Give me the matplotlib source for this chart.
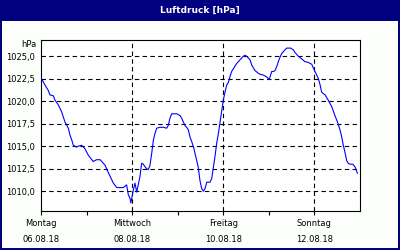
import matplotlib
matplotlib.use("Agg")
import matplotlib.pyplot as plt
from matplotlib.patches import Rectangle

# hours since Monday 06.08.18 00:00 and pressure in hPa
hours = [0, 2.1, 3.8, 4.7, 6.5, 7.4, 9.1, 10.9, 12.6, 14.4, 15.3, 16.2, 17.0,
         18.8, 19.6, 21.4, 23.2, 24.9, 27.5, 29.3, 31.1, 33.7, 35.4, 38.1,
         39.9, 43.3, 45.1, 46.0, 46.9, 47.3, 48.6, 49.5, 50.4, 51.2, 52.1,
         53.0, 53.9, 54.8, 55.7, 56.5, 57.4, 58.3, 59.2, 60.0, 60.9, 62.7,
         64.4, 66.2, 67.0, 67.9, 68.8, 71.5, 73.2, 74.1, 75.8, 76.7, 77.6,
         78.5, 79.4, 80.6, 81.1, 82.8, 83.7, 84.6, 85.5, 86.4, 87.3, 89.0,
         89.9, 90.8, 91.6, 92.5, 93.4, 94.3, 95.2, 96.0, 96.9, 97.8, 98.7,
         99.5, 100.4, 101.3, 103.1, 104.8, 106.6, 107.4, 108.3, 110.1, 111.0,
         112.7, 114.5, 115.3, 117.1, 118.9, 120.2, 121.5, 122.4, 123.2, 124.1,
         125.0, 125.9, 126.8, 128.0, 129.4, 131.5, 132.9, 133.8, 135.5, 137.3,
         139.0, 140.8, 142.6, 143.4, 144.3, 146.1, 147.0, 147.8, 149.6, 151.3,
         153.1, 154.8, 156.1, 157.5, 158.4, 159.2, 159.9, 160.6, 161.0, 161.8,
         162.7, 164.2, 165.4, 166.6]
pressure = [1022.6, 1021.8, 1021.2, 1020.7, 1020.6, 1020.1, 1019.6, 1018.8,
            1017.7, 1017.0, 1016.2, 1015.7, 1015.1, 1014.9, 1015.0, 1015.1,
            1014.7, 1014.0, 1013.3, 1013.5, 1013.5, 1012.9, 1012.1, 1010.9,
            1010.4, 1010.4, 1010.7, 1009.6, 1009.2, 1008.7, 1010.1, 1010.9,
            1009.9, 1010.7, 1011.6, 1013.1, 1013.0, 1012.7, 1012.5, 1012.4,
            1012.9, 1014.2, 1015.7, 1016.4, 1017.0, 1017.1, 1017.1, 1017.0,
            1017.3, 1018.1, 1018.6, 1018.6, 1018.4, 1018.1, 1017.3, 1017.1,
            1016.8, 1016.0, 1015.5, 1014.7, 1014.2, 1012.7, 1011.2, 1010.3,
            1010.0, 1010.3, 1011.0, 1011.0, 1011.4, 1012.7, 1013.8, 1015.3,
            1016.4, 1017.7, 1019.0, 1020.1, 1021.0, 1021.8, 1022.1, 1022.7,
            1023.3, 1023.6, 1024.2, 1024.6, 1025.0, 1025.1, 1025.0, 1024.6,
            1024.0, 1023.4, 1023.1, 1023.0, 1022.9, 1022.7, 1022.4, 1023.3,
            1023.3, 1023.4, 1023.8, 1024.4, 1024.9, 1025.3, 1025.6, 1025.9,
            1025.9, 1025.7, 1025.4, 1025.0, 1024.7, 1024.4, 1024.3, 1024.1,
            1023.7, 1023.3, 1022.5, 1021.8, 1021.0, 1020.7, 1020.1, 1019.4,
            1018.4, 1017.7, 1016.8, 1016.0, 1015.1, 1014.5, 1013.8, 1013.4,
            1013.1, 1013.0, 1013.0, 1012.7, 1012.0]

y_ticks = [1010.0, 1012.5, 1015.0, 1017.5, 1020.0, 1022.5, 1025.0]
day_ticks = [0, 2, 4, 6]
day_names = ["Montag", "Mittwoch", "Freitag", "Sonntag"]
day_dates = ["06.08.18", "08.08.18", "10.08.18", "12.08.18"]

navy = "#000080"
plt.rcParams["font.family"] = ["DejaVu Sans"]
plt.rcParams["font.size"] = 6

fig = plt.figure(figsize=(4, 2.5), dpi=100, facecolor=navy)
# white panel under the title bar
fig.patches.append(Rectangle((2 / 400, 2 / 250), 396 / 400, 227 / 250,
                             transform=fig.transFigure, facecolor="#fcfffc",
                             edgecolor="none", zorder=-1))
fig.text(0.5, 1 - 10 / 250, "Luftdruck [hPa]", color="white",
         fontweight="bold", fontsize=6.5, ha="center", va="center")

ax = fig.add_axes([41 / 400, 39 / 250, 319 / 400, 171 / 250])
ax.set_facecolor("white")
days = [h / 24 for h in hours]
ax.plot(days, pressure, color="#0000ff", lw=0.8, zorder=3)

ax.set_xlim(0, 7)
ax.set_ylim(1007.8, 1026.8)

ax.set_yticks(y_ticks)
ax.set_yticklabels([f"{v:.1f}".replace(".", ",") for v in y_ticks])
ax.tick_params(axis="y", length=0, pad=4)

ax.set_xticks(day_ticks)
ax.set_xticks([1, 3, 5], minor=True)
ax.set_xticklabels([f"{n}\n{d}" for n, d in zip(day_names, day_dates)])
for lab in ax.get_xticklabels():
    lab.set_linespacing(1.95)
ax.tick_params(axis="x", which="both", length=3, width=0.8, direction="out", pad=3)

for v in y_ticks:
    ax.axhline(v, color="black", lw=0.8, ls=(0, (4, 3)), zorder=1)
for d in [2, 4, 6]:
    ax.axvline(d, color="black", lw=0.8, ls=(0, (4, 3)), zorder=1)

for s in ax.spines.values():
    s.set_linewidth(0.8)
    s.set_color("black")

fig.text(37 / 400, 1 - 45 / 250, "hPa", ha="right", va="center")

fig.savefig("out.png", dpi=100, facecolor=navy)
